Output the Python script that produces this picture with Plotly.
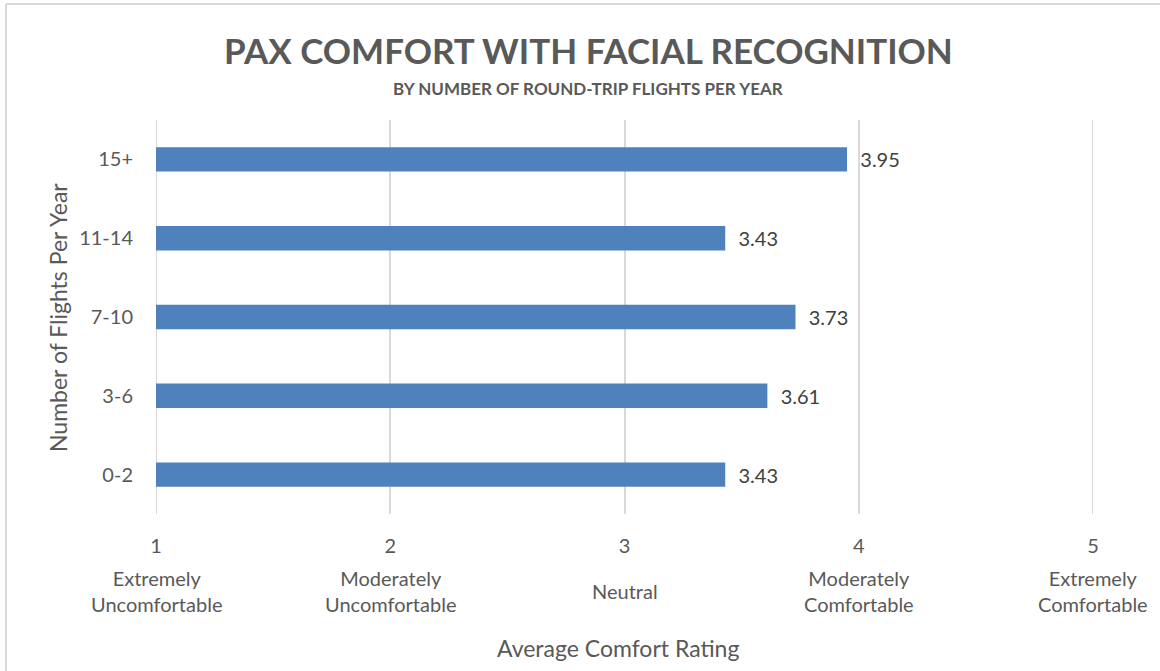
import plotly.graph_objects as go

categories = ["0-2", "3-6", "7-10", "11-14", "15+"]
values = [3.43, 3.61, 3.73, 3.43, 3.95]
tick_vals = [1, 2, 3, 4, 5]
tick_desc = ["Extremely<br>Uncomfortable", "Moderately<br>Uncomfortable", "Neutral",
             "Moderately<br>Comfortable", "Extremely<br>Comfortable"]

FONT = "Lato, Open Sans, sans-serif"
GRAY = "#595959"
GRID = "#D9D9D9"

W, H = 1160, 671
# plot area in page pixels: x 156..1093, y 120..514
L, T = 156, 120
R = 1160 - 1093
B = 671 - 514
pw, ph = W - L - R, H - T - B


def px2paperx(px):
    return (px - L) / pw


def px2papery(py):
    return (H - B - py) / ph


fig = go.Figure()
fig.add_trace(go.Bar(
    y=categories, x=values, orientation="h",
    marker=dict(color="#4F81BD", line=dict(width=0)),
    width=0.31,
    text=[f"  {v:.2f}" for v in values], textposition="outside",
    textfont=dict(family=FONT, size=20, color="#404040"),
    cliponaxis=False,
))

annotations = []
for v, d in zip(tick_vals, tick_desc):
    annotations.append(dict(
        x=v, xref="x", y=px2papery(591), yref="paper", text=d, showarrow=False,
        font=dict(family=FONT, size=20, color=GRAY), xanchor="center", yanchor="middle",
    ))
annotations.append(dict(
    x=px2paperx(588), xref="paper", y=px2papery(50), yref="paper",
    text="<b>PAX COMFORT WITH FACIAL RECOGNITION</b>", showarrow=False,
    font=dict(family=FONT, size=35, color=GRAY), xanchor="center", yanchor="middle",
))
annotations.append(dict(
    x=px2paperx(588), xref="paper", y=px2papery(88), yref="paper",
    text="<b>BY NUMBER OF ROUND-TRIP FLIGHTS PER YEAR</b>", showarrow=False,
    font=dict(family=FONT, size=17, color=GRAY), xanchor="center", yanchor="middle",
))
annotations.append(dict(
    x=px2paperx(618), xref="paper", y=px2papery(648), yref="paper",
    text="Average Comfort Rating", showarrow=False,
    font=dict(family=FONT, size=23, color=GRAY), xanchor="center", yanchor="middle",
))
annotations.append(dict(
    x=px2paperx(58), xref="paper", y=px2papery(318), yref="paper",
    text="Number of Flights Per Year", showarrow=False, textangle=-90,
    font=dict(family=FONT, size=23, color=GRAY), xanchor="center", yanchor="middle",
))

shapes = [
    # outer chart border (top and left edges visible)
    dict(type="line", xref="paper", yref="paper",
         x0=px2paperx(6), x1=px2paperx(1180), y0=px2papery(4), y1=px2papery(4),
         line=dict(color=GRID, width=2)),
    dict(type="line", xref="paper", yref="paper",
         x0=px2paperx(6), x1=px2paperx(6), y0=px2papery(4), y1=px2papery(700),
         line=dict(color=GRID, width=2)),
]
# gridlines at the range edges (plotly omits them)
for v in (tick_vals[0], tick_vals[-1]):
    shapes.append(dict(type="line", xref="x", yref="paper", x0=v, x1=v, y0=0, y1=1,
                       layer="below", line=dict(color=GRID, width=2)))

fig.update_layout(
    width=W, height=H,
    margin=dict(l=L, r=R, t=T, b=B, autoexpand=False),
    paper_bgcolor="white", plot_bgcolor="white",
    showlegend=False,
    annotations=annotations, shapes=shapes,
    xaxis=dict(
        range=[1, 5], tickvals=tick_vals, ticktext=[str(v) for v in tick_vals],
        showgrid=True, gridcolor=GRID, gridwidth=2,
        zeroline=False, showline=False, ticks="",
        tickfont=dict(family=FONT, size=20, color=GRAY),
        ticklabelstandoff=18,
    ),
    yaxis=dict(
        categoryorder="array", categoryarray=categories,
        showgrid=False, zeroline=False, showline=False, ticks="",
        tickfont=dict(family=FONT, size=20, color=GRAY),
        ticklabelstandoff=22,
    ),
)

fig.write_html(
    "out.html",
    config={"displayModeBar": False},
    post_script="document.body.style.margin='0';document.body.style.overflow='hidden';",
)
